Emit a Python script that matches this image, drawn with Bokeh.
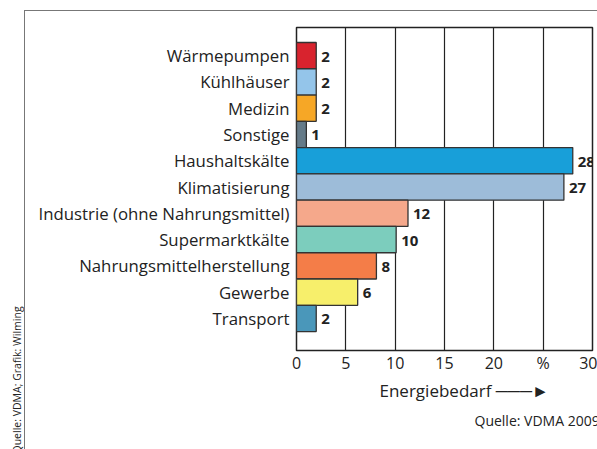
from bokeh.plotting import figure
from bokeh.models import FixedTicker, Title, Range1d
from bokeh.core.properties import value
from bokeh.embed import file_html
from bokeh.resources import INLINE

categories = ["Wärmepumpen", "Kühlhäuser", "Medizin", "Sonstige", "Haushaltskälte",
              "Klimatisierung", "Industrie (ohne Nahrungsmittel)", "Supermarktkälte",
              "Nahrungsmittelherstellung", "Gewerbe", "Transport"]
values = [2, 2, 2, 1, 28, 27.1, 11.3, 10.1, 8.1, 6.2, 2]
value_labels = ["2", "2", "2", "1", "28", "27", "12", "10", "8", "6", "2"]
colors = ["#d8232e", "#94c5ea", "#f6a726", "#657b89", "#189fd9",
          "#9dbcd9", "#f5a88b", "#7ccdbd", "#f47d48", "#f7ef6b", "#4a97ba"]
x_ticks = [0, 5, 10, 15, 20, 25, 30]
x_tick_labels = {0: "0", 5: "5", 10: "10", 15: "15", 20: "20", 25: "%", 30: "30"}

n = len(categories)
ys = [n - i for i in range(n)]

FONT = "Open Sans"
TXT = "#222222"

frame_css = """
:host { position: relative; }
:host::after {
  content: ""; position: absolute; left: 24px; top: 10px; right: -20px; bottom: -20px;
  border-left: 1.5px solid #777777; border-top: 1.5px solid #777777;
  pointer-events: none;
}
"""

p = figure(width=597, height=449, output_backend="svg", toolbar_location=None,
           x_range=Range1d(0, 30), y_range=Range1d(-0.22, 12.07),
           min_border_left=294, min_border_right=5, min_border_top=27, min_border_bottom=99,
           stylesheets=[frame_css])
p.background_fill_color = "white"
p.border_fill_color = "white"
p.outline_line_color = "#222222"
p.outline_line_width = 1.5

p.hbar(y=ys, right=values, left=0, height=1.0, fill_color=colors,
       line_color="#333333", line_width=1.3)

p.text(x=values, y=ys, text=value_labels, x_offset=5, y_offset=1,
       text_font=value(FONT), text_font_style="bold", text_font_size="15px",
       text_color=TXT, text_baseline="middle", text_align="left")

for ax in (p.xaxis, p.yaxis):
    ax.axis_line_color = None
    ax.major_tick_line_color = None
    ax.minor_tick_line_color = None
    ax.major_tick_out = 0
    ax.major_tick_in = 0
    ax.minor_tick_out = 0
    ax.minor_tick_in = 0
    ax.major_label_text_font = FONT
    ax.major_label_text_color = TXT

p.xaxis.ticker = FixedTicker(ticks=x_ticks)
p.xaxis.major_label_overrides = x_tick_labels
p.xaxis.major_label_text_font_size = "16px"
p.xaxis.major_label_standoff = 1

p.yaxis.ticker = FixedTicker(ticks=ys)
p.yaxis.major_label_overrides = {y: c for y, c in zip(ys, categories)}
p.yaxis.major_label_text_font_size = "16.8px"
p.yaxis.major_label_standoff = 7

p.xgrid.ticker = FixedTicker(ticks=x_ticks)
p.xgrid.grid_line_color = "#222222"
p.xgrid.grid_line_width = 1.2
p.ygrid.grid_line_color = None

p.add_layout(Title(text="Energiebedarf \u2500\u2500\u2500\u25ba", align="left", offset=83, standoff=1,
                   text_font=FONT, text_font_size="17px", text_font_style="normal",
                   text_color=TXT), "below")
p.add_layout(Title(text="Quelle: VDMA 2009", align="left", offset=178, standoff=13,
                   text_font=FONT, text_font_size="14px", text_font_style="normal",
                   text_color=TXT), "below")
p.add_layout(Title(text="Quelle: VDMA; Grafik: Wilming", align="left", offset=-103, standoff=19,
                   vertical_align="top",
                   text_font=FONT, text_font_size="10.5px", text_font_style="normal",
                   text_color=TXT), "left")

open("out.html", "w").write(file_html(p, INLINE))
